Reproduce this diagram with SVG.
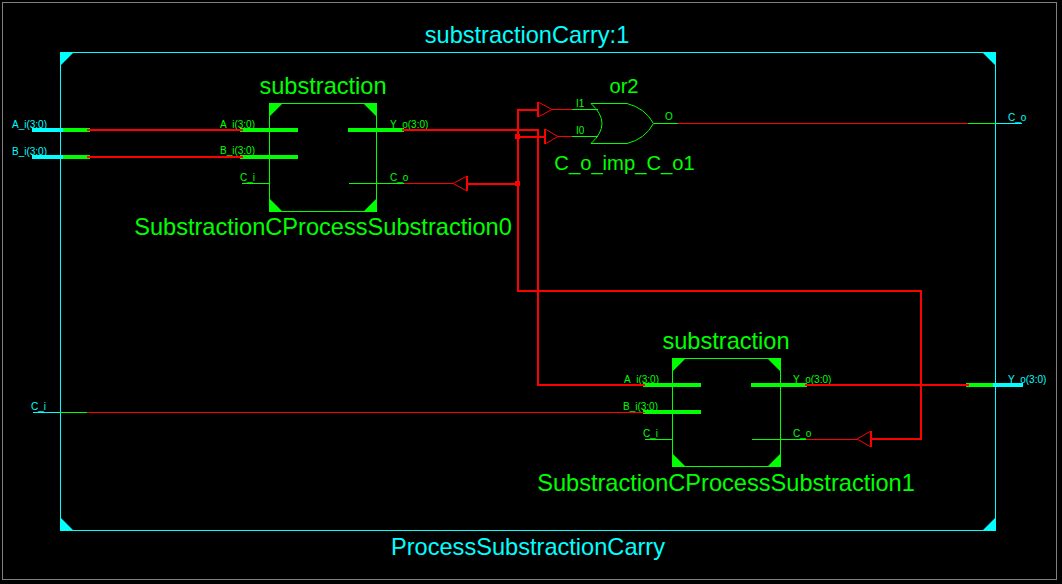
<svg xmlns="http://www.w3.org/2000/svg" width="1062" height="584" viewBox="0 0 1062 584">
<style>
text{font-family:"Liberation Sans",Arial,sans-serif}
.t{font-size:23.6px;fill:#0f0;text-anchor:middle}
.s{font-size:20.2px;fill:#0f0;text-anchor:middle}
.c{font-size:23.6px;fill:#0ff;text-anchor:middle}
.p{font-size:10px;fill:#0f0}
.pc{font-size:10px;fill:#0ff}
.box{fill:none;stroke:#0f0;stroke-width:1}
.g{fill:#0f0}
.bus{stroke:#0f0;stroke-width:4;fill:none}
.pin{stroke:#0f0;stroke-width:1;fill:none}
.cb{stroke:#0ff;stroke-width:4;fill:none}
.cp{stroke:#0ff;stroke-width:1;fill:none}
.r2{stroke:#f00;stroke-width:2;fill:none}
.r1{stroke:#f00;stroke-width:1;fill:none}
</style>
<rect width="1062" height="584" fill="#000"/>
<rect x="2.5" y="2.5" width="1054" height="577" fill="none" stroke="#808080" stroke-width="1"/>
<g id="top">
<rect x="60.500" y="52.500" width="935" height="478" fill="none" stroke="#0ff" stroke-width="1"/>
<path fill="#0ff" d="M60 52h14L60 66zM996 52h-14l14 14zM60 531h14L60 517zM996 531h-14l14-14z"/>
<text class="c" x="527" y="43">substractionCarry:1</text>
<text class="c" x="528" y="555">ProcessSubstractionCarry</text>
</g>
<g id="ports">
<path class="cb" d="M32 130H63M32 157H63M993 385H1023"/>
<path class="bus" d="M63 130H90M63 157H90M966 385H993"/>
<path class="cp" d="M33 412.500H60M996 123.500H1022"/>
<path class="pin" d="M60 412.500H87M968 123.500H996"/>
<text class="pc" x="12" y="128">A_i(3:0)</text>
<text class="pc" x="12" y="155">B_i(3:0)</text>
<text class="pc" x="31" y="410">C_i</text>
<text class="pc" x="1008" y="121">C_o</text>
<text class="pc" x="1008" y="383">Y_o(3:0)</text>
</g>
<g id="sub0">
<rect class="box" x="269.500" y="103.500" width="107" height="108"/>
<path class="g" d="M269 103h14l-14 14zM377 103h-14l14 14zM269 212h14l-14-14zM377 212h-14l14-14z"/>
<path class="bus" d="M240 130H298M240 157H298M348 130H404"/>
<path class="pin" d="M242 183.500H269M349 183.500H404"/>
<text class="t" x="323" y="94">substraction</text>
<text class="t" x="323" y="235">SubstractionCProcessSubstraction0</text>
<text class="p" x="220" y="128">A_i(3:0)</text>
<text class="p" x="220" y="154">B_i(3:0)</text>
<text class="p" x="240" y="181">C_i</text>
<text class="p" x="390" y="128">Y_o(3:0)</text>
<text class="p" x="390" y="181">C_o</text>
</g>
<g id="sub1">
<rect class="box" x="672.500" y="358.500" width="108" height="108"/>
<path class="g" d="M672 358h14l-14 14zM781 358h-14l14 14zM672 467h14l-14-14zM781 467h-14l14-14z"/>
<path class="bus" d="M643 385H701M643 412H701M751 385H807"/>
<path class="pin" d="M645 439.500H672M752 439.500H806"/>
<text class="t" x="726" y="349">substraction</text>
<text class="t" x="726" y="491">SubstractionCProcessSubstraction1</text>
<text class="p" x="624" y="383">A_i(3:0)</text>
<text class="p" x="623" y="410">B_i(3:0)</text>
<text class="p" x="643" y="437">C_i</text>
<text class="p" x="793" y="383">Y_o(3:0)</text>
<text class="p" x="793" y="437">C_o</text>
</g>
<g id="or2">
<path class="box" d="M591 103.500H627Q645 108 653.500 123.500Q645 139 627 143.500H591Q613 123.500 591 103.500Z"/>
<path class="pin" d="M572 109.500H598M572 136.500H598M654 123.500H678"/>
<text class="s" x="624" y="93">or2</text>
<text class="s" x="624.500" y="170">C_o_imp_C_o1</text>
<text class="p" x="576" y="107">I1</text>
<text class="p" x="576" y="134">I0</text>
<text class="p" x="665" y="120">O</text>
</g>
<g id="connectors">
<path class="r2" d="M87 130H243M87 157H243M402 130H538V385H645M805 385H969"/>
<path class="r1" d="M87 412.500H645"/>
<path class="r2" d="M538 110H518V291H921V439H871M518 137H545M518 184H467"/>
<path fill="#f00" d="M515 134h5v5h-5zM515 181h5v5h-5z"/>
<path class="r1" d="M538 102V117L552 109.500zM545 129V144L558 136.500zM467 176V191L453 183.500zM871 431V447L857 439z"/>
<path class="r2" d="M538 102V117M545 129V144M467 176V191M871 431V447"/>
<path class="r1" d="M552 109.500H572M558 136.500H572M453 183.500H404M857 439.500H806M678 123.500H968"/>
</g>
</svg>
